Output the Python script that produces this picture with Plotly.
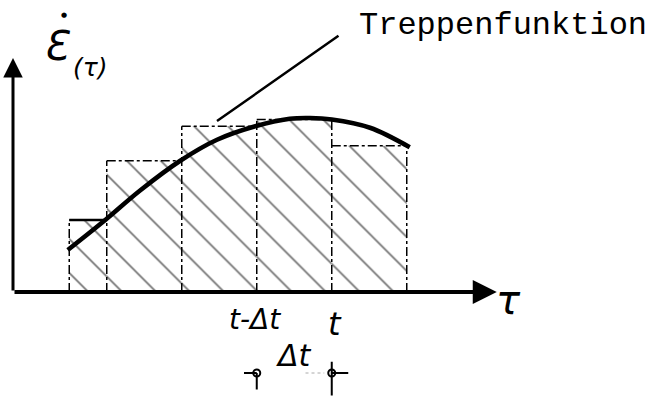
import plotly.graph_objects as go

# Smooth strain-rate curve ε̇(τ)
tau_curve = [0.73, 1.23, 1.69, 2.23, 2.72, 3.23, 3.69, 3.96, 4.25, 4.76, 5.29]
eps_curve = [0.56, 0.96, 1.35, 1.75, 2.03, 2.21, 2.31, 2.32, 2.30, 2.19, 1.93]

# Step function (Treppenfunktion): interval edges and step heights
step_edges = [0.75, 1.25, 2.25, 3.25, 4.25, 5.25]
step_values = [0.96, 1.75, 2.21, 2.30, 1.95]

# Axis extents
tau_max = 6.45
eps_max = 3.12

W, H = 654, 396
x_range = [-0.1733, 8.5467]
y_range = [-1.3867, 3.8933]

HAND = "DejaVu Sans"

fig = go.Figure()

# hatched bars of the step function
centers = [(a + b) / 2 for a, b in zip(step_edges[:-1], step_edges[1:])]
widths = [b - a for a, b in zip(step_edges[:-1], step_edges[1:])]
fig.add_trace(go.Bar(
    x=centers, y=step_values, width=widths,
    marker=dict(color="white", line=dict(width=0),
                pattern=dict(shape="\\", size=24, solidity=0.07,
                             fgcolor="black", bgcolor="white", fgopacity=0.55)),
    hoverinfo="skip", showlegend=False,
))

# dashed outline of the steps
ox, oy = [], []
for i, e in enumerate(step_edges):
    left = step_values[i - 1] if i > 0 else 0
    right = step_values[i] if i < len(step_values) else 0
    ox += [e, e, None]
    oy += [0, max(left, right), None]
for i, v in enumerate(step_values):
    ox += [step_edges[i], step_edges[i + 1], None]
    oy += [v, v, None]
fig.add_trace(go.Scatter(x=ox, y=oy, mode="lines",
                         line=dict(color="black", width=1.5, dash="dashdot"),
                         hoverinfo="skip", showlegend=False))
# the first step top is drawn solid
fig.add_trace(go.Scatter(x=step_edges[0:2], y=[step_values[0]] * 2, mode="lines",
                         line=dict(color="black", width=2.5),
                         hoverinfo="skip", showlegend=False))

# the curve
fig.add_trace(go.Scatter(x=tau_curve, y=eps_curve, mode="lines",
                         line=dict(color="black", width=4.5, shape="spline", smoothing=1),
                         hoverinfo="skip", showlegend=False))

# Δt dimension marks below the axis
t_prev, t_now = step_edges[3], step_edges[4]
y_dim = -1.08
tick = 0.17
fig.add_trace(go.Scatter(
    x=[t_prev - tick, t_prev, None, t_prev, t_prev, None,
       t_now, t_now + tick + 0.05, None, t_now, t_now],
    y=[y_dim, y_dim, None, y_dim, y_dim - 0.22, None,
       y_dim, y_dim, None, y_dim + 0.15, y_dim - 0.3],
    mode="lines", line=dict(color="black", width=2),
    hoverinfo="skip", showlegend=False))
fig.add_trace(go.Scatter(x=[t_prev + 0.65, t_now - 0.1], y=[y_dim, y_dim], mode="lines",
                         line=dict(color="#aaaaaa", width=1, dash="dot"),
                         hoverinfo="skip", showlegend=False))
fig.add_trace(go.Scatter(x=[t_prev, t_now], y=[y_dim, y_dim], mode="markers",
                         marker=dict(symbol="circle-open", size=7, color="black",
                                     line=dict(width=2)),
                         hoverinfo="skip", showlegend=False))

annotations = [
    # axes with arrow heads
    dict(x=tau_max, y=0, ax=0, ay=0, axref="x", ayref="y", xref="x", yref="y",
         showarrow=True, arrowhead=2, arrowsize=1.2, arrowwidth=4, arrowcolor="black",
         standoff=0, startstandoff=0, text=""),
    dict(x=0, y=eps_max, ax=0, ay=0, axref="x", ayref="y", xref="x", yref="y",
         showarrow=True, arrowhead=2, arrowsize=1.3, arrowwidth=3, arrowcolor="black",
         standoff=0, startstandoff=0, text=""),
    # leader line to the label
    dict(x=2.72, y=2.28, ax=4.36, ay=3.43, axref="x", ayref="y", xref="x", yref="y",
         showarrow=True, arrowhead=0, arrowwidth=2.5, arrowcolor="black",
         standoff=0, startstandoff=0, text=""),
    dict(x=4.58, y=3.55, xref="x", yref="y", xanchor="left", yanchor="middle",
         text="Treppenfunktion", showarrow=False,
         font=dict(family="Liberation Mono", size=32, color="black")),
    # axis labels
    dict(x=0.58, y=3.28, xref="x", yref="y", text="<i>Ɛ</i>", showarrow=False,
         font=dict(family=HAND, size=40, color="black")),
    dict(x=0.68, y=3.7, xref="x", yref="y", text="●", showarrow=False,
         font=dict(family="DejaVu Sans", size=7, color="black")),
    dict(x=1.03, y=3.0, xref="x", yref="y", text="<i>(τ)</i>", showarrow=False,
         font=dict(family=HAND, size=25, color="black")),
    dict(x=6.6, y=-0.1, xref="x", yref="y", text="<i>τ</i>", showarrow=False,
         font=dict(family=HAND, size=40, color="black")),
    # tick labels
    dict(x=t_prev - 0.02, y=-0.37, xref="x", yref="y", text="<i>t-Δt</i>", showarrow=False,
         font=dict(family=HAND, size=28, color="black")),
    dict(x=t_now + 0.04, y=-0.42, xref="x", yref="y", text="<i>t</i>", showarrow=False,
         font=dict(family=HAND, size=32, color="black")),
    dict(x=(t_prev + t_now) / 2 + 0.0, y=-0.85, xref="x", yref="y", text="<i>Δt</i>",
         showarrow=False, font=dict(family=HAND, size=30, color="black")),
]

fig.update_layout(
    width=W, height=H, autosize=False,
    margin=dict(l=0, r=0, t=0, b=0),
    paper_bgcolor="white", plot_bgcolor="white",
    xaxis=dict(range=x_range, visible=False, fixedrange=True),
    yaxis=dict(range=y_range, visible=False, fixedrange=True),
    barmode="overlay",
    annotations=annotations,
    showlegend=False,
)

fig.write_html("out.html")
